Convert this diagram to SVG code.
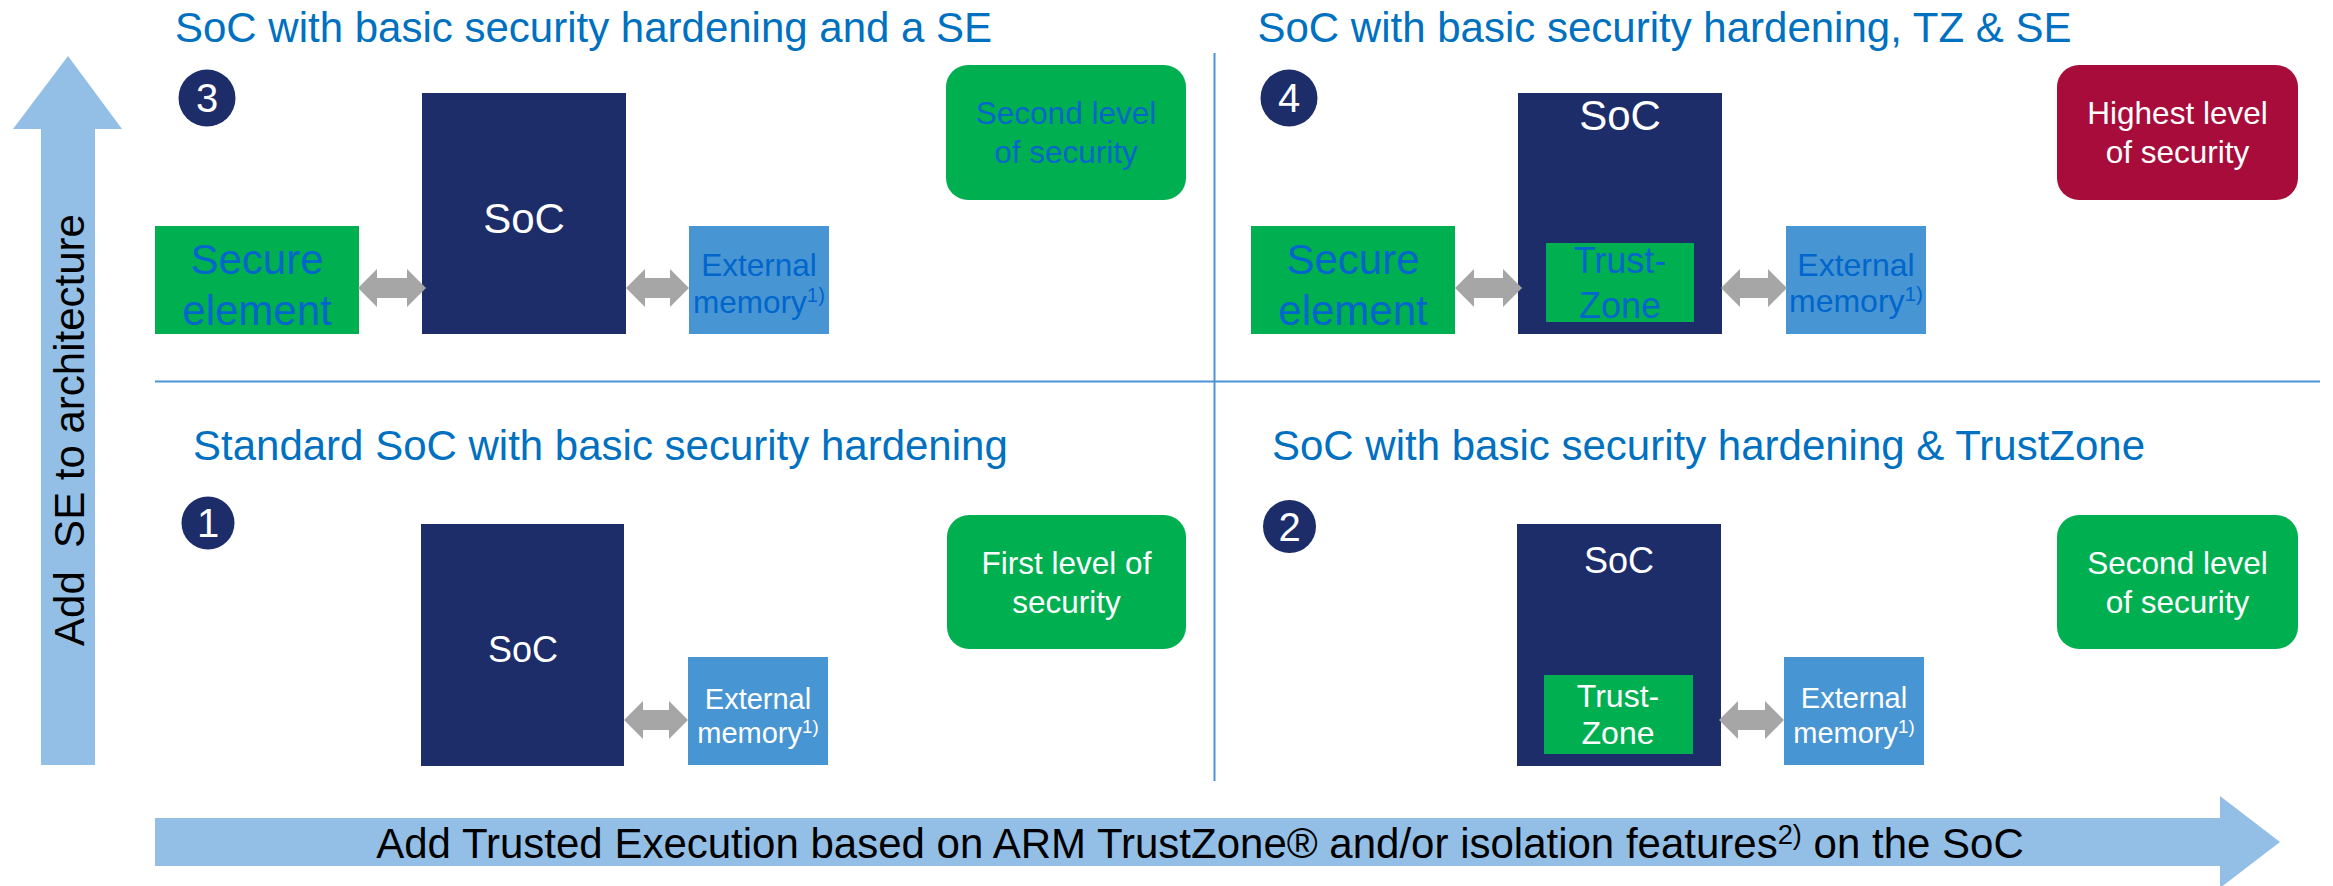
<svg xmlns="http://www.w3.org/2000/svg" width="2333" height="886" viewBox="0 0 2333 886">
<defs>
<style>
text{font-family:"Liberation Sans",Arial,Helvetica,sans-serif}
.title{font-size:42px;fill:#0070c0}
.soc{fill:#1c2d6a}
.grn{fill:#00b050}
.mem{fill:#4895d3}
.red{fill:#a80c3a}
.dbl{fill:#a6a6a6}
.axis{fill:#93bfe6}
.div{stroke:#4d94d6;stroke-width:2;fill:none}
.w{fill:#ffffff}
.b{fill:#0066cc}
.k{fill:#000000}
.mid{text-anchor:middle}
.num{font-size:40px;fill:#ffffff;text-anchor:middle}
.badge{fill:#1c2d6a}
.f42{font-size:42px}
.f36{font-size:36px}
.f32{font-size:32px}
.f31{font-size:31.5px}
.f29{font-size:29px}
.sup{font-size:65%}
</style>
</defs>
<rect width="2333" height="886" fill="#ffffff"/>

<g id="axes">
<polygon class="axis" points="68,56 122,129 95,129 95,765 41,765 41,129 13,129"/>
<text class="k f42 mid" style="white-space:pre" xml:space="preserve" transform="translate(84,430) rotate(-90)">Add  SE to architecture</text>
<polygon class="axis" points="155,818 2220,818 2220,796 2280,842 2220,888 2220,866 155,866"/>
<text class="k f42 mid" x="1200" y="858">Add Trusted Execution based on ARM TrustZone® and/or isolation features<tspan class="sup" dy="-14">2)</tspan><tspan dy="14"> on the SoC</tspan></text>
</g>

<g id="dividers">
<line class="div" x1="155" y1="381.5" x2="2320" y2="381.5"/>
<line class="div" x1="1214.5" y1="53" x2="1214.5" y2="781"/>
</g>

<!-- Quadrant 3 -->
<g id="q3">
<text class="title" x="175" y="42">SoC with basic security hardening and a SE</text>
<g id="q3-badge"><circle class="badge" cx="207" cy="98" r="28.5"/><text class="num" x="207" y="112">3</text></g>
<g id="q3-soc"><rect class="soc" x="422" y="93" width="204" height="241"/><text class="w f42 mid" x="524" y="233">SoC</text></g>
<g id="q3-se"><rect class="grn" x="155" y="226" width="204" height="108"/><text class="b f42 mid" x="257" y="274">Secure</text><text class="b f42 mid" x="257" y="325">element</text></g>
<g id="q3-mem"><rect class="mem" x="689" y="226" width="140" height="108"/><text class="b f31 mid" x="759" y="276">External</text><text class="b f31 mid" x="759" y="313">memory<tspan class="sup" dy="-11">1)</tspan></text></g>
<g id="q3-level"><rect class="grn" x="946" y="65" width="240" height="135" rx="22"/><text class="b f31 mid" x="1066" y="124">Second level</text><text class="b f31 mid" x="1066" y="163">of security</text></g>
</g>

<!-- Quadrant 4 -->
<g id="q4">
<text class="title" x="1257.5" y="42">SoC with basic security hardening, TZ &amp; SE</text>
<g id="q4-badge"><circle class="badge" cx="1289" cy="98" r="28.5"/><text class="num" x="1289" y="112">4</text></g>
<g id="q4-soc"><rect class="soc" x="1518" y="93" width="204" height="241"/><text class="w f42 mid" x="1620" y="130">SoC</text></g>
<g id="q4-tz"><rect class="grn" x="1546" y="243" width="148" height="79"/><text class="b f36 mid" x="1620" y="273">Trust-</text><text class="b f36 mid" x="1620" y="318">Zone</text></g>
<g id="q4-se"><rect class="grn" x="1251" y="226" width="204" height="108"/><text class="b f42 mid" x="1353" y="274">Secure</text><text class="b f42 mid" x="1353" y="325">element</text></g>
<g id="q4-mem"><rect class="mem" x="1786" y="226" width="140" height="108"/><text class="b f32 mid" x="1856" y="276">External</text><text class="b f32 mid" x="1856" y="312">memory<tspan class="sup" dy="-11">1)</tspan></text></g>
<g id="q4-level"><rect class="red" x="2057" y="65" width="241" height="135" rx="22"/><text class="w f31 mid" x="2177.5" y="124">Highest level</text><text class="w f31 mid" x="2177.5" y="163">of security</text></g>
</g>

<!-- Quadrant 1 -->
<g id="q1">
<text class="title" x="193" y="460">Standard SoC with basic security hardening</text>
<g id="q1-badge"><circle class="badge" cx="208" cy="523" r="26.5"/><text class="num" x="208" y="537">1</text></g>
<g id="q1-soc"><rect class="soc" x="421" y="524" width="203" height="242"/><text class="w f36 mid" x="523" y="662">SoC</text></g>
<g id="q1-mem"><rect class="mem" x="688" y="657" width="140" height="108"/><text class="w f29 mid" x="758" y="709">External</text><text class="w f29 mid" x="758" y="743">memory<tspan class="sup" dy="-10">1)</tspan></text></g>
<g id="q1-level"><rect class="grn" x="947" y="515" width="239" height="134" rx="22"/><text class="w f31 mid" x="1066.5" y="574">First level of</text><text class="w f31 mid" x="1066.5" y="613">security</text></g>
</g>

<!-- Quadrant 2 -->
<g id="q2">
<text class="title" x="1272" y="460">SoC with basic security hardening &amp; TrustZone</text>
<g id="q2-badge"><circle class="badge" cx="1289.5" cy="526.5" r="26.5"/><text class="num" x="1289.5" y="540.5">2</text></g>
<g id="q2-soc"><rect class="soc" x="1517" y="524" width="204" height="242"/><text class="w f36 mid" x="1619" y="573">SoC</text></g>
<g id="q2-tz"><rect class="grn" x="1544" y="675" width="149" height="79"/><text class="w f32 mid" x="1618" y="707">Trust-</text><text class="w f32 mid" x="1618" y="744">Zone</text></g>
<g id="q2-mem"><rect class="mem" x="1784" y="657" width="140" height="108"/><text class="w f29 mid" x="1854" y="708">External</text><text class="w f29 mid" x="1854" y="743">memory<tspan class="sup" dy="-10">1)</tspan></text></g>
<g id="q2-level"><rect class="grn" x="2057" y="515" width="241" height="134" rx="22"/><text class="w f31 mid" x="2177.5" y="574">Second level</text><text class="w f31 mid" x="2177.5" y="613">of security</text></g>
</g>

<g id="connectors">
<polygon class="dbl" points="358,288 377,269 377,278 407,278 407,269 426,288 407,307 407,298 377,298 377,307"/>
<polygon class="dbl" points="626,288 645,269 645,278 670,278 670,269 689,288 670,307 670,298 645,298 645,307"/>
<polygon class="dbl" points="1455,288 1474,269 1474,278 1503,278 1503,269 1522,288 1503,307 1503,298 1474,298 1474,307"/>
<polygon class="dbl" points="1721,288 1740,269 1740,278 1768,278 1768,269 1787,288 1768,307 1768,298 1740,298 1740,307"/>
<polygon class="dbl" points="624,720 643,701 643,710 669,710 669,701 688,720 669,739 669,730 643,730 643,739"/>
<polygon class="dbl" points="1719,720 1738,701 1738,710 1765,710 1765,701 1784,720 1765,739 1765,730 1738,730 1738,739"/>
</g>
</svg>
